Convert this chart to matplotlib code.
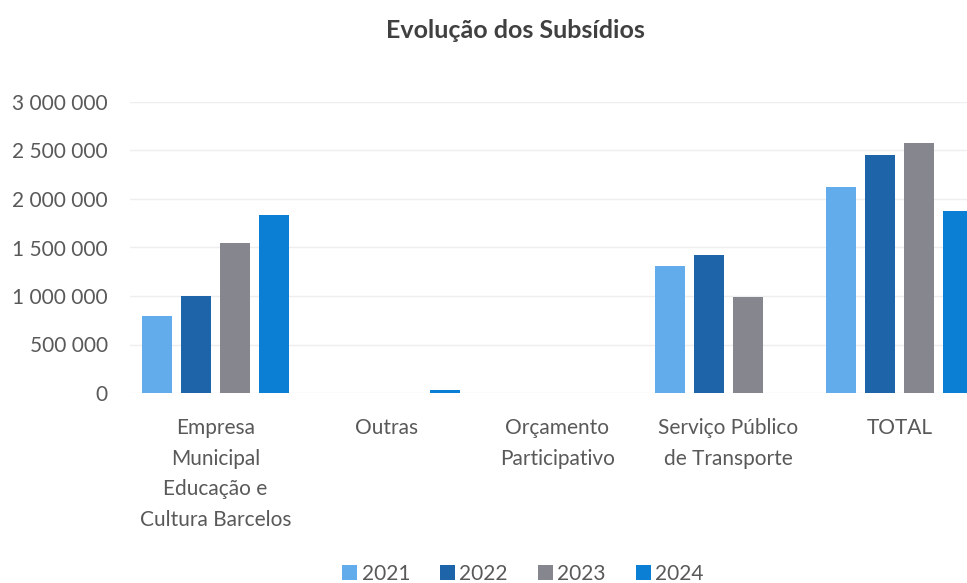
import matplotlib.pyplot as plt
import numpy as np
from matplotlib.ticker import FuncFormatter

plt.rcParams['font.family'] = ['Lato', 'DejaVu Sans']

categorias = ["Empresa\nMunicipal\nEducação e\nCultura Barcelos", "Outras",
              "Orçamento\nParticipativo", "Serviço Público\nde Transporte", "TOTAL"]
anos = ["2021", "2022", "2023", "2024"]
valores = {
    "2021": [790000, 0, 0, 1310000, 2125000],
    "2022": [995000, 0, 0, 1420000, 2450000],
    "2023": [1550000, 0, 0, 990000, 2580000],
    "2024": [1835000, 30000, 0, 0, 1880000],
}
cores = ["#62acec", "#1e64a8", "#86868f", "#0b7fd4"]

fig = plt.figure(figsize=(9.67, 5.83), dpi=100)
ax = fig.add_axes([130 / 967, 190 / 583, 837 / 967, 291 / 583])

x = np.arange(len(categorias))
largura = 0.18
passo = 0.228
for i, ano in enumerate(anos):
    ax.bar(x + (i - 1.5) * passo, valores[ano], largura, color=cores[i], label=ano, zorder=2)

ax.set_xlim(-0.5, -0.5 + 837 / 171)
ax.set_ylim(0, 3000000)
ax.set_yticks(np.arange(0, 3000001, 500000))
ax.yaxis.set_major_formatter(FuncFormatter(lambda v, p: f"{int(v):,}".replace(",", " ")))
ax.set_xticks(x)
ax.set_xticklabels(categorias, linespacing=1.66)
ax.tick_params(axis='both', length=0, labelsize=15, colors="#595959")
ax.tick_params(axis='y', pad=16)
ax.tick_params(axis='x', pad=18)
ax.grid(axis='y', color="#eeeeee", linewidth=1, zorder=0)
for s in ax.spines.values():
    s.set_visible(False)

fig.text(515 / 967, 1 - 30 / 583, "Evolução dos Subsídios", ha='center', va='center',
         fontsize=18, fontweight='bold', color="#404040")

fig.legend(loc='center', bbox_to_anchor=(523 / 967, 1 - 574 / 583), ncol=4, frameon=False,
           fontsize=15, handlelength=0.72, handleheight=0.72, handletextpad=0.2,
           columnspacing=1.45, labelcolor="#595959")

fig.savefig("out.png", dpi=100)
